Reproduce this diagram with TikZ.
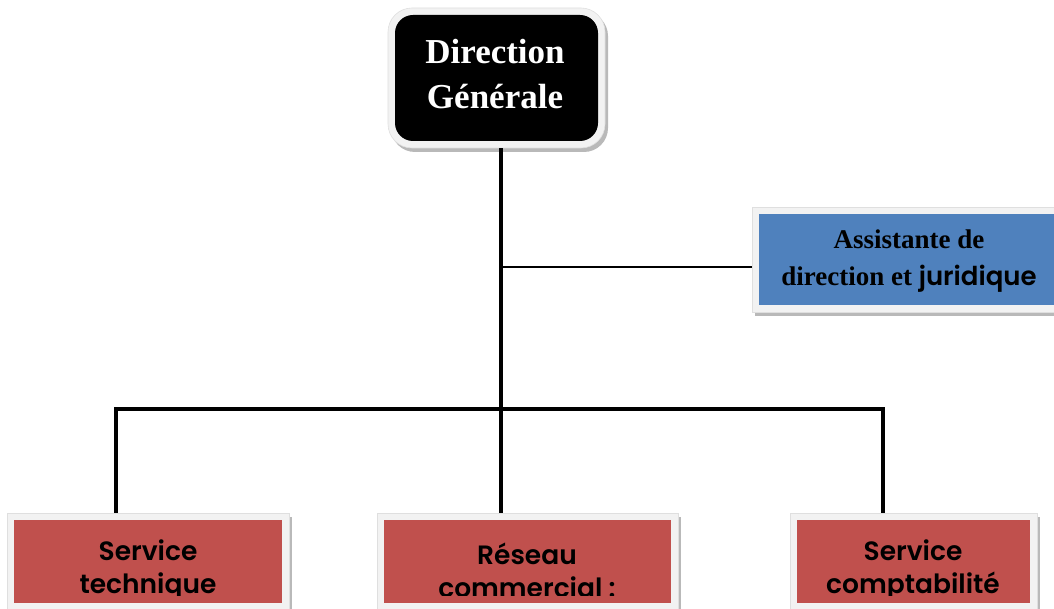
\documentclass[tikz,border=0pt]{standalone}
\usepackage{fontspec}
\setmainfont{Liberation Serif}
\newfontfamily\gothic{Poppins}[BoldFont={* SemiBold}]
\usetikzlibrary{calc,shadows}
\definecolor{boxred}{HTML}{C0504D}
\definecolor{boxblue}{HTML}{4F81BD}
\definecolor{framegray}{HTML}{F2F2F2}
\tikzset{
  frame/.style={draw=gray!25, line width=0.6pt, fill=framegray, inner sep=0pt,
    drop shadow={shadow xshift=3pt, shadow yshift=-4pt, fill=gray!55, opacity=1}},
  inner fill/.style 2 args={path picture={
    \fill[#1, rounded corners=#2]
      ([shift={(7pt,7pt)}]path picture bounding box.south west) rectangle
      ([shift={(-7pt,-7pt)}]path picture bounding box.north east);}},
  conn/.style={line width=3.4pt, draw=black},
  thinconn/.style={line width=1.4pt, draw=black},
  dgtext/.style={align=center, text=white, font=\bfseries\fontsize{35}{45}\selectfont},
  asttext/.style={align=center, text=black, font=\bfseries\fontsize{27}{37}\selectfont},
  svctext/.style={align=center, text=black, font=\gothic\bfseries\fontsize{26.5}{33}\selectfont},
}
\begin{document}
\begin{tikzpicture}[x=1pt,y=-1pt]
\useasboundingbox[fill=white] (0,0) rectangle (1054,609);
% Direction generale
\node[frame, rounded corners=24pt, minimum width=217pt, minimum height=140pt,
      inner fill={black}{18pt}] (dg) at (496.5,78) {};
\node[dgtext] (dgt) at (495,74) {Direction\\Générale};
% Assistante
\node[frame, minimum width=314pt, minimum height=105pt,
      inner fill={boxblue}{0pt}] (asst) at (909,259.5) {};
\node[asttext] (astt) at (909,261) {Assistante de\\direction et {\gothic\bfseries\fontsize{26}{37}\selectfont juridique}};
% Bottom services
\node[frame, minimum width=282pt, minimum height=97pt,
      inner fill={boxred}{0pt}] (st) at (148,561.5) {};
\node[frame, minimum width=301pt, minimum height=97pt,
      inner fill={boxred}{0pt}] (rc) at (527.5,561.5) {};
\node[frame, minimum width=247pt, minimum height=97pt,
      inner fill={boxred}{0pt}] (sc) at (913.5,561.5) {};
\begin{scope}
  \clip (0,500) rectangle (1054,595);
  \node[svctext] (stt) at (148,570.5) {Service\\technique};
  \node[svctext] (rct) at (527,570.5) {Réseau\\commercial :};
  \node[svctext] (sct) at (913,570.5) {Service\\comptabilité};
\end{scope}
% connectors
\coordinate (trunk) at (501,409);
\coordinate (b1) at (116,409);
\coordinate (b3) at (883,409);
\coordinate (aj) at ([yshift=-7.5pt]asst.west);
\draw[conn] (trunk |- dg.south) -- (trunk |- rc.north);
\draw[conn] (b1 |- st.north) -- (b1) -- (b3) -- (b3 |- sc.north);
\draw[thinconn] (aj -| trunk) -- (aj);
\end{tikzpicture}
\end{document}
